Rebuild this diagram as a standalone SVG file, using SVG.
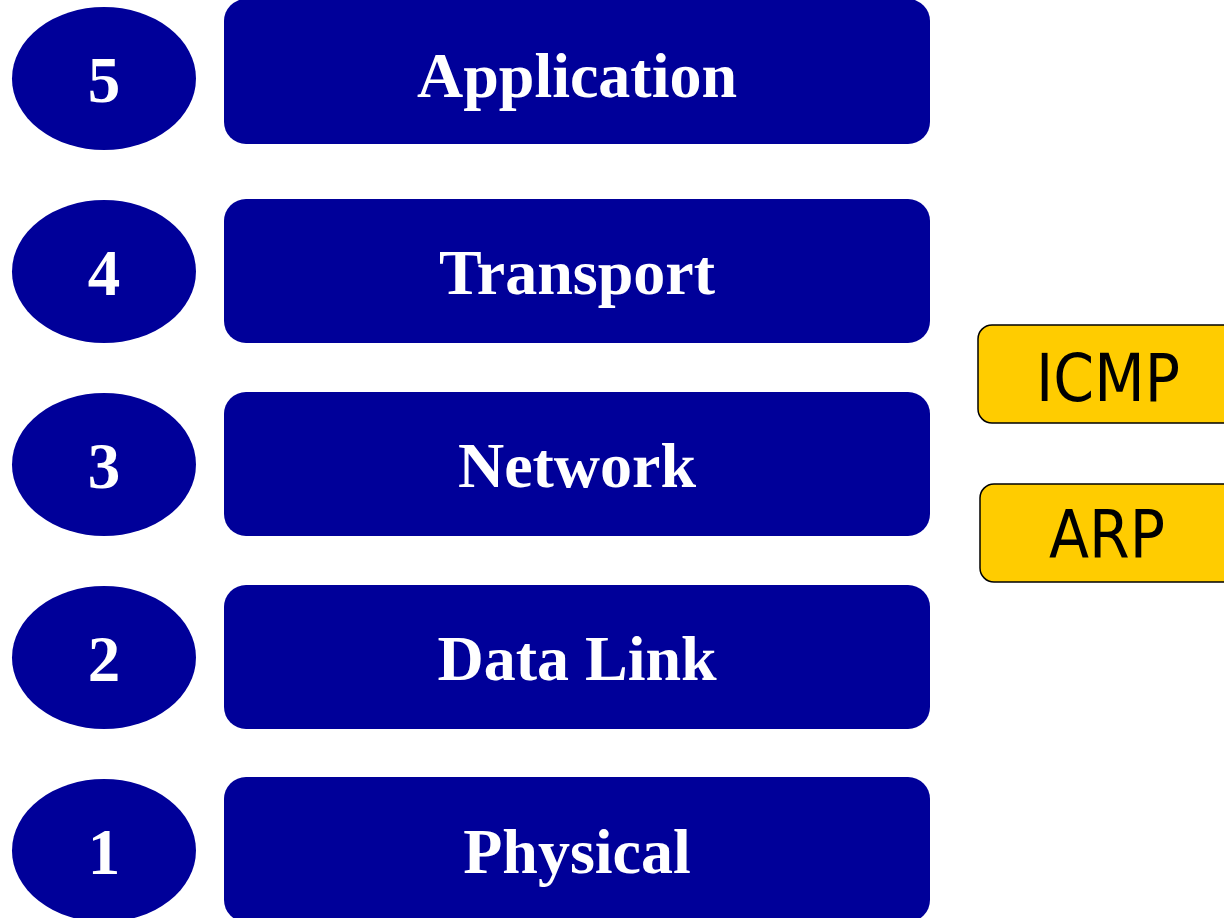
<svg xmlns="http://www.w3.org/2000/svg" width="1224" height="918" viewBox="0 0 1224 918">
<style>
.oval{fill:#000099}
.layer{fill:#000099}
.num,.lbl{font-family:"Liberation Serif","Times New Roman",serif;font-weight:bold;fill:#ffffff;text-anchor:middle}
.num{font-size:65px}
.lbl{font-size:64px}
.proto{fill:#FFCC00;stroke:#000000;stroke-width:1.5}
.ptxt{font-family:"DejaVu Sans Condensed","DejaVu Sans",sans-serif;font-stretch:condensed;font-size:65px;fill:#000000;text-anchor:middle}
</style>
<rect width="1224" height="918" fill="#ffffff"/>
<g id="layer5">
<ellipse class="oval" cx="104" cy="78.5" rx="92" ry="71.5"/>
<text class="num" x="104" y="102">5</text>
<rect class="layer" x="224" y="-1" width="706" height="145" rx="22"/>
<text class="lbl" x="577" y="97">Application</text>
</g>
<g id="layer4">
<ellipse class="oval" cx="104" cy="271.5" rx="92" ry="71.5"/>
<text class="num" x="104" y="295">4</text>
<rect class="layer" x="224" y="199" width="706" height="144" rx="22"/>
<text class="lbl" x="577" y="294">Transport</text>
</g>
<g id="layer3">
<ellipse class="oval" cx="104" cy="464.5" rx="92" ry="71.5"/>
<text class="num" x="104" y="488">3</text>
<rect class="layer" x="224" y="392" width="706" height="144" rx="22"/>
<text class="lbl" x="577" y="487">Network</text>
</g>
<g id="layer2">
<ellipse class="oval" cx="104" cy="657.5" rx="92" ry="71.5"/>
<text class="num" x="104" y="681">2</text>
<rect class="layer" x="224" y="585" width="706" height="144" rx="22"/>
<text class="lbl" x="577" y="680">Data Link</text>
</g>
<g id="layer1">
<ellipse class="oval" cx="104" cy="850.5" rx="92" ry="71.5"/>
<text class="num" x="104" y="874">1</text>
<rect class="layer" x="224" y="777" width="706" height="145" rx="22"/>
<text class="lbl" x="577" y="873">Physical</text>
</g>
<g id="icmp">
<rect class="proto" x="978" y="325" width="260" height="98" rx="14"/>
<text class="ptxt" x="1108" y="401">ICMP</text>
</g>
<g id="arp">
<rect class="proto" x="980" y="484" width="258" height="98" rx="14"/>
<text class="ptxt" x="1107" y="557">ARP</text>
</g>
<g id="connectors"></g>
</svg>
